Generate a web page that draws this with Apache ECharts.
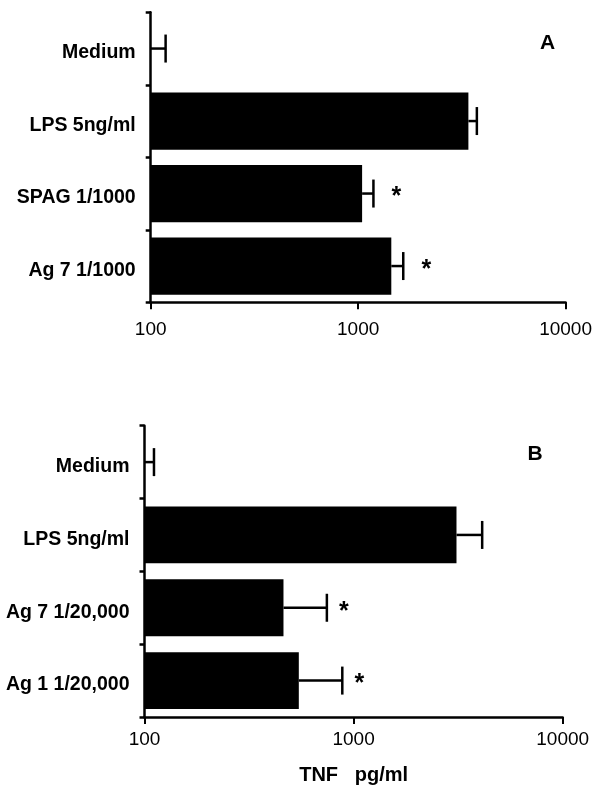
<!DOCTYPE html>
<html>
<head>
<meta charset="utf-8">
<script src="https://cdn.jsdelivr.net/npm/echarts@6/dist/echarts.min.js"></script>
<style>
html,body{margin:0;padding:0;background:#fff;}
#chart{width:595px;height:786px;}
</style>
</head>
<body>
<div id="chart"></div>
<script>
// Panel A
var catsA = ['Medium', 'LPS 5ng/ml', 'SPAG 1/1000', 'Ag 7 1/1000'];
var meanA = [100, 3400, 1045, 1445];
var sdA = [18, 335, 140, 205];
var sigA = [0, 0, 1, 1];
// Panel B
var catsB = ['Medium', 'LPS 5ng/ml', 'Ag 7 1/20,000', 'Ag 1 1/20,000'];
var meanB = [100, 3105, 462, 547];
var sdB = [11, 1015, 283, 336];
var sigB = [0, 0, 1, 1];
// Axis ticks
var xTicks = [100, 1000, 10000];
var xName = 'TNF   pg/ml';

var FONT = 'Liberation Sans, Arial, Helvetica, sans-serif';

function errData(cats, mean, sd, sig) {
  return cats.map(function (c, i) { return [i, mean[i], mean[i] + sd[i], sig[i]]; });
}

function errRender(starOffset) {
  return function (params, api) {
    var ci = api.value(0);
    var m = api.value(1);
    var up = api.value(2);
    var sig = api.value(3);
    var p0 = api.coord([m, ci]);
    var p1 = api.coord([up, ci]);
    var half = 14;
    var st = { stroke: '#000', lineWidth: 2.5 };
    var children = [
      { type: 'line', shape: { x1: p0[0], y1: p0[1], x2: p1[0], y2: p1[1] }, style: st },
      { type: 'line', shape: { x1: p1[0], y1: p1[1] - half, x2: p1[0], y2: p1[1] + half }, style: st }
    ];
    if (sig) {
      children.push({
        type: 'text',
        x: p1[0] + starOffset, y: p1[1] + 4,
        style: { text: '*', fill: '#000', font: 'bold 25px ' + FONT, align: 'center', verticalAlign: 'middle' }
      });
    }
    return { type: 'group', children: children };
  };
}

function xAxisCfg(gridIndex, withName, margin) {
  var cfg = {
    type: 'log', logBase: 10, gridIndex: gridIndex, min: xTicks[0], max: xTicks[xTicks.length - 1],
    startValue: xTicks[0],
    axisLine: { show: true, lineStyle: { color: '#000', width: 2.5 } },
    axisTick: { show: true, length: 7, lineStyle: { color: '#000', width: 2 } },
    axisLabel: { color: '#000', fontSize: 19, fontFamily: FONT, margin: margin,
      formatter: function (v) { return String(Math.round(v)); } },
    splitLine: { show: false },
    minorTick: { show: false }
  };
  if (withName) {
    cfg.name = xName;
    cfg.nameLocation = 'middle';
    cfg.nameGap = 48;
    cfg.nameTextStyle = { color: '#000', fontSize: 20, fontWeight: 'bold', fontFamily: FONT };
  }
  return cfg;
}

function yAxisCfg(gridIndex, cats) {
  return {
    type: 'category', gridIndex: gridIndex, data: cats, inverse: true,
    axisLine: { show: true, lineStyle: { color: '#000', width: 2.5 } },
    axisTick: { show: true, length: 5, lineStyle: { color: '#000', width: 2.5 } },
    axisLabel: { color: '#000', fontSize: 19.5, fontWeight: 'bold', fontFamily: FONT, margin: 15,
      verticalAlign: 'top', lineHeight: 9 },
    splitLine: { show: false }
  };
}

var chart = echarts.init(document.getElementById('chart'), null, { renderer: 'canvas' });
chart.setOption({
  backgroundColor: '#fff',
  animation: false,
  grid: [
    { left: 150.7, top: 12.3, width: 417, height: 290 },
    { left: 144.5, top: 425.7, width: 418.2, height: 293.3 }
  ],
  xAxis: [xAxisCfg(0, false, 18), xAxisCfg(1, true, 13)],
  yAxis: [yAxisCfg(0, catsA), yAxisCfg(1, catsB)],
  graphic: [
    { type: 'text', x: 547.5, y: 43, style: { text: 'A', fill: '#000', font: 'bold 21px ' + FONT, align: 'center', verticalAlign: 'middle' } },
    { type: 'text', x: 535, y: 454, style: { text: 'B', fill: '#000', font: 'bold 21px ' + FONT, align: 'center', verticalAlign: 'middle' } }
  ],
  series: [
    { type: 'bar', xAxisIndex: 0, yAxisIndex: 0, data: meanA, barCategoryGap: '21%', clip: true,
      itemStyle: { color: '#000' }, z: 2 },
    { type: 'bar', xAxisIndex: 1, yAxisIndex: 1, data: meanB, barCategoryGap: '22%', clip: true,
      itemStyle: { color: '#000' }, z: 2 },
    { type: 'custom', xAxisIndex: 0, yAxisIndex: 0, data: errData(catsA, meanA, sdA, sigA),
      renderItem: errRender(23), encode: { x: [1, 2], y: 0 }, z: 3 },
    { type: 'custom', xAxisIndex: 1, yAxisIndex: 1, data: errData(catsB, meanB, sdB, sigB),
      renderItem: errRender(17), encode: { x: [1, 2], y: 0 }, z: 3 }
  ]
});
</script>
</body>
</html>
